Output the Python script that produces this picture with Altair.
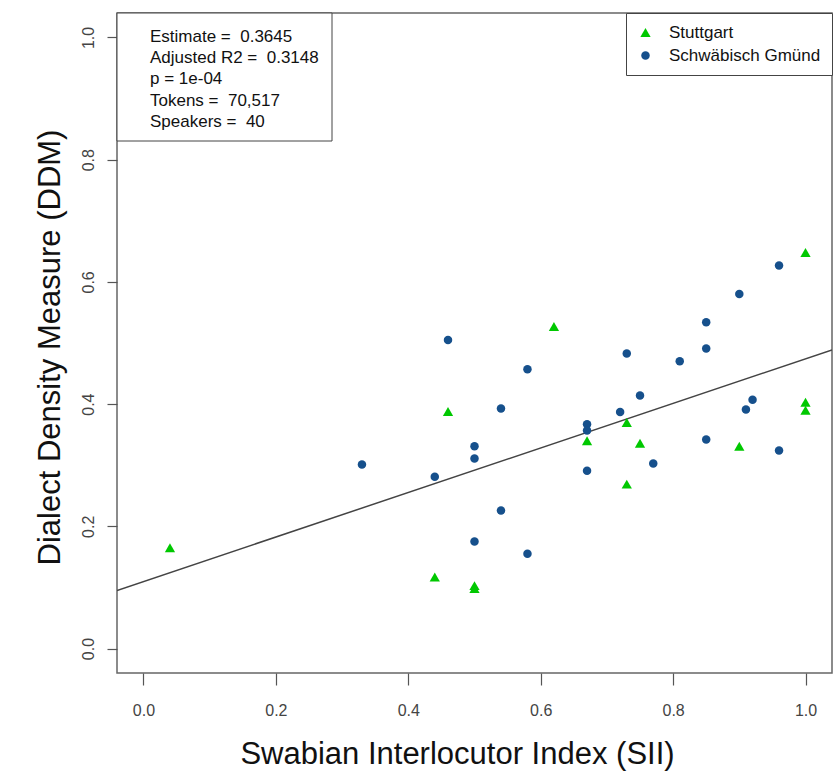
import altair as alt
import pandas as pd

# ---- data ----
groups = ["Stuttgart", "Schwäbisch Gmünd"]
group_colors = ["#00C800", "#16508C"]
group_shapes = ["triangle-up", "circle"]
group_sizes = [105, 72]

stuttgart_sii = [0.04, 0.44, 0.46, 0.50, 0.50, 0.62, 0.67, 0.73, 0.73, 0.75, 0.90, 1.00, 1.00, 1.00]
stuttgart_ddm = [0.165, 0.117, 0.388, 0.103, 0.098, 0.527, 0.340, 0.370, 0.269, 0.336, 0.331, 0.648, 0.403, 0.390]

gmuend_sii = [0.33, 0.44, 0.46, 0.50, 0.50, 0.50, 0.54, 0.54, 0.58, 0.58, 0.67, 0.67, 0.67,
              0.72, 0.73, 0.75, 0.77, 0.81, 0.85, 0.85, 0.85, 0.90, 0.91, 0.92, 0.96, 0.96]
gmuend_ddm = [0.301, 0.281, 0.505, 0.331, 0.311, 0.175, 0.393, 0.226, 0.457, 0.155, 0.367, 0.357, 0.291,
              0.387, 0.483, 0.414, 0.303, 0.470, 0.534, 0.491, 0.342, 0.580, 0.391, 0.407, 0.627, 0.324]

x_ticks = [0.0, 0.2, 0.4, 0.6, 0.8, 1.0]
y_ticks = [0.0, 0.2, 0.4, 0.6, 0.8, 1.0]
axis_domain = [-0.04, 1.04]

fit_intercept = 0.1096
fit_slope = 0.3645

NB = "\u00a0"
stats_lines = ["Estimate =" + NB + NB + "0.3645",
               "Adjusted R2 =" + NB + NB + "0.3148",
               "p = 1e-04",
               "Tokens =" + NB + NB + "70,517",
               "Speakers =" + NB + NB + "40"]

x_title = "Swabian Interlocutor Index (SII)"
y_title = "Dialect Density Measure (DDM)"

# ---- tables ----
pts = pd.DataFrame({
    "sii": stuttgart_sii + gmuend_sii,
    "ddm": stuttgart_ddm + gmuend_ddm,
    "city": [groups[0]] * len(stuttgart_sii) + [groups[1]] * len(gmuend_sii),
})
fit = pd.DataFrame({"sii": axis_domain,
                    "ddm": [fit_intercept + fit_slope * v for v in axis_domain]})
one = pd.DataFrame({"k": [0]})

BASE_FONT = "Liberation Sans"
TITLE_FONT = "Liberation Sans"

xscale = alt.Scale(domain=axis_domain, nice=False, zero=False)
yscale = alt.Scale(domain=axis_domain, nice=False, zero=False)

xaxis = alt.Axis(values=x_ticks, format=".1f", title=x_title, grid=False, domain=False,
                 tickSize=12, tickColor="#555", tickWidth=1.2,
                 labelFont=BASE_FONT, labelFontSize=16, labelColor="#444", labelPadding=17,
                 titleFont=TITLE_FONT, titleFontSize=31, titleFontWeight="normal",
                 titleColor="#111", titleX=340, titleY=90, titleBaseline="alphabetic",
                 titleAlign="center")
yaxis = alt.Axis(values=y_ticks, format=".1f", title=y_title, grid=False, domain=False,
                 tickSize=10, tickColor="#555", tickWidth=1.2,
                 labelFont=BASE_FONT, labelFontSize=16, labelColor="#444", labelPadding=14,
                 labelAngle=270, labelAlign="center", labelBaseline="alphabetic",
                 titleFont=TITLE_FONT, titleFontSize=31, titleFontWeight="normal",
                 titleColor="#111", titleAngle=270, titleX=-58, titleY=334,
                 titleBaseline="alphabetic", titleAlign="center")

legend = alt.Legend(title=None, orient="top-right", offset=0, padding=11,
                    strokeColor="#444", fillColor="white",
                    labelFont=BASE_FONT, labelFontSize=17, labelColor="#111",
                    labelOffset=15, rowPadding=5, symbolStrokeWidth=0)

points = alt.Chart(pts).mark_point(filled=True, opacity=1, clip=True).encode(
    x=alt.X("sii:Q", scale=xscale, axis=xaxis),
    y=alt.Y("ddm:Q", scale=yscale, axis=yaxis),
    color=alt.Color("city:N", scale=alt.Scale(domain=groups, range=group_colors), legend=legend),
    shape=alt.Shape("city:N", scale=alt.Scale(domain=groups, range=group_shapes), legend=legend),
    size=alt.Size("city:N", scale=alt.Scale(domain=groups, range=group_sizes), legend=legend),
)

line = alt.Chart(fit).mark_line(color="#444", strokeWidth=1.5, clip=True).encode(
    x=alt.X("sii:Q", scale=xscale),
    y=alt.Y("ddm:Q", scale=yscale),
)

box = alt.Chart(one).mark_rect(fill="white", stroke="#444", strokeWidth=1).encode(
    x=alt.value(0), x2=alt.value(215), y=alt.value(0), y2=alt.value(128)
)

stats = alt.Chart(one).mark_text(
    text=stats_lines, align="left", baseline="alphabetic", lineHeight=21.4,
    font=BASE_FONT, fontSize=17, color="#111"
).encode(x=alt.value(33), y=alt.value(28.7))

chart = alt.layer(line, points, box, stats).properties(
    width=715, height=660,
    autosize=alt.AutoSizeParams(type="none"),
    padding={"left": 117, "top": 13, "right": 6, "bottom": 99},
    background="white",
).configure_view(stroke="#666", strokeWidth=1.5)

chart.save("out.html", embed_options={"renderer": "svg", "actions": False})
